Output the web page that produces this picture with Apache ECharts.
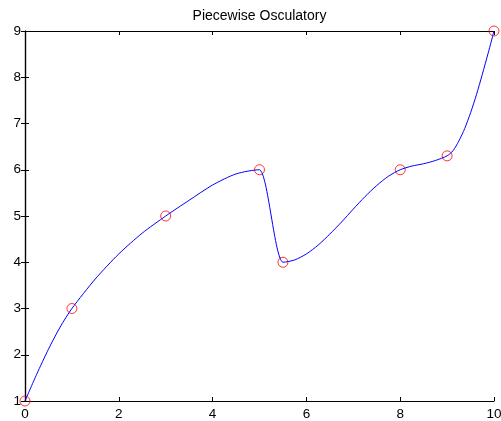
<!DOCTYPE html>
<html>
<head>
<meta charset="utf-8">
<script src="https://cdn.jsdelivr.net/npm/echarts@6/dist/echarts.min.js"></script>
<style>
  html, body { margin: 0; padding: 0; background: #ffffff; }
  #chart { width: 501px; height: 421px; }
</style>
</head>
<body>
<div id="chart"></div>
<script>
// Interpolation nodes (red circles)
const nodeX = [0, 1, 3, 5, 5.5, 8, 9, 10];
const nodeY = [1, 3, 5, 6, 4, 6, 6.3, 9];

// Piecewise osculatory curve, sampled along x (blue line)
const curveX = [0, 0.25, 0.5, 0.75, 1, 1.5, 2, 2.5, 3, 3.5, 4, 4.5, 5,
  5.0625, 5.125, 5.1875, 5.25, 5.3125, 5.375, 5.4375, 5.5,
  5.75, 6, 6.25, 6.5, 6.75, 7, 7.25, 7.5, 7.75, 8,
  8.25, 8.5, 8.75, 9, 9.125, 9.25, 9.375, 9.5, 9.625, 9.75, 9.875, 10];
const curveY = [1, 1.58, 2.12, 2.60, 3, 3.64, 4.18, 4.63, 5, 5.34, 5.67, 5.91, 6,
  5.91, 5.69, 5.37, 5.00, 4.63, 4.31, 4.09, 4,
  4.05, 4.18, 4.37, 4.61, 4.87, 5.15, 5.42, 5.66, 5.86, 6,
  6.08, 6.13, 6.20, 6.3, 6.41, 6.62, 6.89, 7.23, 7.62, 8.06, 8.52, 9];

const chartTitle = 'Piecewise Osculatory';
const xRange = [0, 10, 2];
const yRange = [1, 9, 1];

const FONT = '"Liberation Sans", Arial, Helvetica, sans-serif';
const GRID = { left: 25, top: 31, width: 469, height: 370 };

const nodes = nodeX.map((x, i) => [x, nodeY[i]]);
const curve = curveX.map((x, i) => [x, curveY[i]]);

const axisLine = { show: true, lineStyle: { color: '#000000', width: 1.2 } };
const tickIn = { show: true, inside: true, length: 4, lineStyle: { color: '#000000', width: 1 } };

const chart = echarts.init(document.getElementById('chart'), null, { renderer: 'canvas' });
chart.setOption({
  animation: false,
  backgroundColor: '#ffffff',
  // title centred over the plot box rather than the whole canvas
  graphic: [{
    type: 'text',
    x: GRID.left + GRID.width / 2,
    y: 9,
    style: {
      text: chartTitle,
      fontFamily: FONT,
      fontSize: 14,
      fill: '#000000',
      textAlign: 'center',
      textVerticalAlign: 'top'
    }
  }],
  grid: Object.assign({ containLabel: false, outerBoundsMode: 'none' }, GRID),
  xAxis: [
    {
      type: 'value', position: 'bottom',
      min: xRange[0], max: xRange[1], interval: xRange[2],
      axisLine: axisLine, axisTick: tickIn, splitLine: { show: false },
      axisLabel: { margin: 6, fontFamily: FONT, fontSize: 13.5, color: '#000000' }
    },
    {
      type: 'value', position: 'top',
      min: xRange[0], max: xRange[1], interval: xRange[2],
      axisLine: axisLine, axisTick: tickIn, splitLine: { show: false },
      axisLabel: { show: false }
    }
  ],
  yAxis: [
    {
      type: 'value', position: 'left',
      min: yRange[0], max: yRange[1], interval: yRange[2],
      axisLine: axisLine, axisTick: tickIn, splitLine: { show: false },
      axisLabel: { margin: 4, fontFamily: FONT, fontSize: 13.5, color: '#000000' }
    },
    {
      type: 'value', position: 'right',
      min: yRange[0], max: yRange[1], interval: yRange[2],
      axisLine: axisLine, axisTick: tickIn, splitLine: { show: false },
      axisLabel: { show: false }
    }
  ],
  series: [
    {
      type: 'scatter',
      data: nodes,
      symbol: 'circle',
      symbolSize: 10,
      clip: false,
      itemStyle: { color: 'rgba(0,0,0,0)', borderColor: '#ff0000', borderWidth: 1 },
      z: 2
    },
    {
      type: 'line',
      data: curve,
      smooth: 0.25,
      showSymbol: false,
      symbol: 'none',
      lineStyle: { color: '#0000ff', width: 1 },
      z: 3
    }
  ]
});
</script>
</body>
</html>
